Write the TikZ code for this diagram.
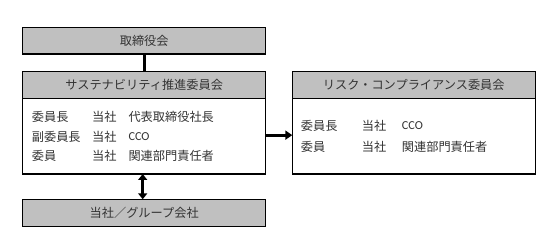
\documentclass[tikz,border=0pt]{standalone}
\usepackage{fontspec}
\setmainfont{Noto Sans CJK JP}
\newfontfamily\latinfont{Carlito}
\usetikzlibrary{arrows.meta}
\definecolor{hdrgray}{HTML}{C0C0C0}
\definecolor{txtgray}{HTML}{333333}
\begin{document}
\begin{tikzpicture}[x=1pt,y=-1pt,
  box/.style={draw=black,line width=1.4pt,minimum width=243pt,inner sep=0pt,outer sep=0pt,font=\fontsize{12.2}{13}\selectfont,text=txtgray},
  hdr/.style={box,fill=hdrgray},
  bodybox/.style={box,fill=white},
  cell/.style={anchor=west,inner sep=0pt,font=\fontsize{12.2}{13}\selectfont,text=txtgray},
  conn/.style={line width=2.8pt},
  tip/.style={-{Triangle[length=7pt,width=9pt]}}
]
\useasboundingbox (0,0) rectangle (560,245);
% left column
\node[hdr,minimum height=26.3pt] (board) at (144.2,40.8) {取締役会};
\node[hdr,minimum height=26.6pt] (suth) at (144.2,85) {サステナビリティ推進委員会};
\node[bodybox,minimum height=75.7pt,anchor=north] (sutb) at (suth.south) {};
\node[hdr,minimum height=27.4pt] (group) at (144.2,213) {当社／グループ会社};
% right column
\node[hdr,minimum height=26.6pt] (riskh) at (413.8,85) {リスク・コンプライアンス委員会};
\node[bodybox,minimum height=75.7pt,anchor=north] (riskb) at (riskh.south) {};
% left body text
\node[cell] (l1a) at (31.7,116.5) {委員長};
\node[cell] (l1b) at (92,116.5) {当社};
\node[cell] (l1c) at (128.3,116.5) {代表取締役社長};
\node[cell] (l2a) at (31.7,136.5) {副委員長};
\node[cell] (l2b) at (92,136.5) {当社};
\node[cell] (l2c) at (128.3,136.5) {\latinfont CCO};
\node[cell] (l3a) at (31.7,155.5) {委員};
\node[cell] (l3b) at (92,155.5) {当社};
\node[cell] (l3c) at (128.3,155.5) {関連部門責任者};
% right body text
\node[cell] (r1a) at (300.7,126) {委員長};
\node[cell] (r1b) at (361.7,126) {当社};
\node[cell] (r1c) at (401.7,126) {\latinfont CCO};
\node[cell] (r2a) at (300.7,146.5) {委員};
\node[cell] (r2b) at (361.7,146.5) {当社};
\node[cell] (r2c) at (401.7,146.5) {関連部門責任者};
% connectors
\draw[conn] (board.south) -- (suth.north);
\draw[conn,{Triangle[length=6pt,width=9pt]}-{Triangle[length=6pt,width=9pt]}] ([xshift=-1.5pt]sutb.south) -- ([xshift=-1.5pt]group.north);
\draw[conn,tip] ([yshift=1pt]sutb.east) -- ([yshift=1pt]riskb.west);
\end{tikzpicture}
\end{document}
